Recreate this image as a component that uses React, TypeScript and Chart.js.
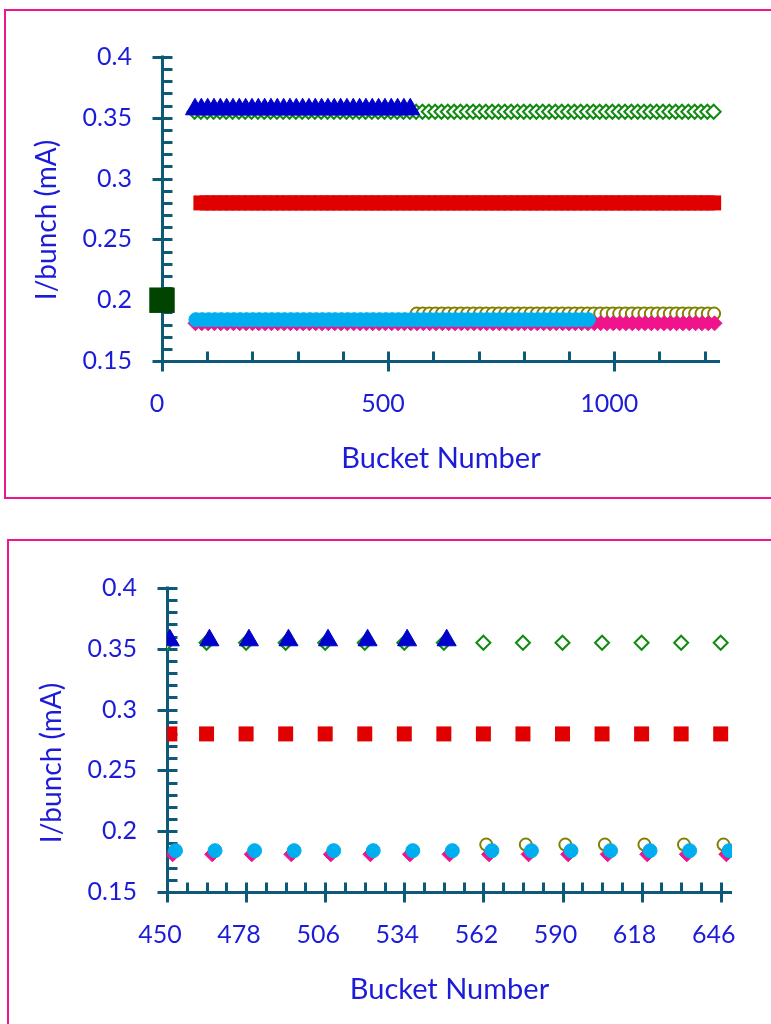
import React, { useEffect, useRef } from 'react';
import { Chart, registerables } from 'chart.js';

Chart.register(...registerables);

// ---------- text ----------
const X_TITLE = 'Bucket Number';
const Y_TITLE = 'I/bunch (mA)';

// ---------- series (bucket numbers) ----------
const TRIANGLE_X = [73, 87, 101, 115, 129, 143, 157, 171, 185, 199, 213, 227, 241, 255, 269, 283, 297, 311, 325, 339, 353, 367, 381, 395, 409, 423, 437, 451, 465, 479, 493, 507, 521, 535, 549];
const TRIANGLE_LEVEL = 0.357;

const GREEN_DIAMOND_X = [72, 86, 100, 114, 128, 142, 156, 170, 184, 198, 212, 226, 240, 254, 268, 282, 296, 310, 324, 338, 352, 366, 380, 394, 408, 422, 436, 450, 464, 478, 492, 506, 520, 534, 548, 562, 576, 590, 604, 618, 632, 646, 660, 674, 688, 702, 716, 730, 744, 758, 772, 786, 800, 814, 828, 842, 856, 870, 884, 898, 912, 926, 940, 954, 968, 982, 996, 1010, 1024, 1038, 1052, 1066, 1080, 1094, 1108, 1122, 1136, 1150, 1164, 1178, 1192, 1206, 1220];
const GREEN_DIAMOND_LEVEL = 0.355;

const RED_SQUARE_X = [86, 100, 114, 128, 142, 156, 170, 184, 198, 212, 226, 240, 254, 268, 282, 296, 310, 324, 338, 352, 366, 380, 394, 408, 422, 436, 451, 464, 478, 492, 506, 520, 534, 548, 562, 576, 590, 604, 618, 632, 646, 660, 674, 688, 702, 716, 730, 744, 758, 772, 786, 800, 814, 828, 842, 856, 870, 884, 898, 912, 926, 940, 954, 968, 982, 996, 1010, 1024, 1038, 1052, 1066, 1080, 1094, 1108, 1122, 1136, 1150, 1164, 1178, 1192, 1206, 1220];
const RED_SQUARE_LEVEL = 0.28;

const PINK_DIAMOND_X = [74, 88, 102, 116, 130, 144, 158, 172, 186, 200, 214, 228, 242, 256, 270, 284, 298, 312, 326, 340, 354, 368, 382, 396, 410, 424, 438, 452, 466, 480, 494, 508, 522, 536, 550, 564, 578, 592, 606, 620, 634, 648, 662, 676, 690, 704, 718, 732, 746, 760, 774, 788, 802, 816, 830, 844, 858, 872, 886, 900, 914, 928, 942, 956, 970, 984, 998, 1012, 1026, 1040, 1054, 1068, 1082, 1096, 1110, 1124, 1138, 1152, 1166, 1180, 1194, 1208, 1222];
const PINK_DIAMOND_LEVEL = 0.181;

const CYAN_CIRCLE_X = [75, 89, 103, 117, 131, 145, 159, 173, 187, 201, 215, 229, 243, 257, 271, 285, 299, 313, 327, 341, 355, 369, 383, 397, 411, 425, 439, 453, 467, 481, 495, 509, 523, 537, 551, 565, 579, 593, 607, 621, 635, 649, 663, 677, 691, 705, 719, 733, 747, 761, 775, 789, 803, 817, 831, 845, 859, 873, 887, 901, 915, 929, 943];
const CYAN_CIRCLE_LEVEL = 0.184;

const OLIVE_CIRCLE_X = [563, 577, 591, 605, 619, 633, 647, 661, 675, 689, 703, 717, 731, 745, 759, 773, 787, 801, 815, 829, 843, 857, 871, 885, 899, 913, 927, 941, 955, 969, 983, 997, 1011, 1025, 1039, 1053, 1067, 1081, 1095, 1109, 1123, 1137, 1151, 1165, 1179, 1193, 1207, 1221];
const OLIVE_CIRCLE_LEVEL = 0.189;

const DARK_SQUARE_X = [0];
const DARK_SQUARE_LEVEL = 0.2;

// ---------- ticks ----------
const Y_TICKS = [0.15, 0.16, 0.17, 0.18, 0.19, 0.2, 0.21, 0.22, 0.23, 0.24, 0.25, 0.26, 0.27, 0.28, 0.29, 0.3, 0.31, 0.32, 0.33, 0.34, 0.35, 0.36, 0.37, 0.38, 0.39, 0.4];
const Y_LABELS = [0.15, 0.2, 0.25, 0.3, 0.35, 0.4];

const TOP_X_TICKS = [0, 100, 200, 300, 400, 500, 600, 700, 800, 900, 1000, 1100, 1200];
const TOP_X_LABELS = [0, 500, 1000];

const BOTTOM_X_TICKS = [450, 457, 464, 471, 478, 485, 492, 499, 506, 513, 520, 527, 534, 541, 548, 555, 562, 569, 576, 583, 590, 597, 604, 611, 618, 625, 632, 639, 646];
const BOTTOM_X_LABELS = [450, 478, 506, 534, 562, 590, 618, 646];

// ---------- styling ----------
const FONT = 'Lato, "Open Sans", sans-serif';
const TEXT_BLUE = '#1c1cd8';
const AXIS = '#0c5a78';
const FRAME = '#ee168c';

const pts = (xs: number[], level: number) => xs.map((x) => ({ x, y: level }));

const axisPlugin = {
  id: 'excelAxes',
  beforeDatasetsDraw(chart: any) {
    const { ctx, chartArea, scales } = chart;
    const xs = scales.x;
    const ys = scales.y;
    const L = Math.round(chartArea.left) + 0.5;
    const B = Math.round(chartArea.bottom) + 0.5;
    const T = 10;
    ctx.save();
    ctx.strokeStyle = AXIS;
    ctx.lineWidth = 3;
    ctx.lineCap = 'butt';
    const seg = (x1: number, y1: number, x2: number, y2: number) => {
      ctx.beginPath();
      ctx.moveTo(x1, y1);
      ctx.lineTo(x2, y2);
      ctx.stroke();
    };
    seg(L, chartArea.top - 1.5, L, B);
    seg(L, B, chartArea.right, B);
    ys.ticks.forEach((t: any) => {
      const p = Math.round(ys.getPixelForValue(t.value)) + 0.5;
      const major = t.label !== '' && t.label != null;
      seg(major ? L - T : L, p, L + T, p);
    });
    xs.ticks.forEach((t: any) => {
      const p = Math.round(xs.getPixelForValue(t.value)) + 0.5;
      const major = t.label !== '' && t.label != null;
      seg(p, B - T, p, major ? B + T : B);
    });
    ctx.restore();
  },
  afterDraw(chart: any, _args: any, opts: any) {
    const { ctx } = chart;
    ctx.save();
    ctx.translate(opts.titleX, opts.titleY);
    ctx.rotate(-Math.PI / 2);
    ctx.fillStyle = TEXT_BLUE;
    ctx.font = `28px ${FONT}`;
    ctx.textAlign = 'center';
    ctx.textBaseline = 'middle';
    ctx.fillText(Y_TITLE, 0, 0);
    ctx.restore();
  },
};

type View = {
  height: number;
  xMin: number;
  xMax: number;
  xTicks: number[];
  xLabels: number[];
  pad: { left: number; right: number; top: number; bottom: number };
  yWidth: number;
  xHeight: number;
  yTitleX: number;
  yTitleY: number;
  xTitlePad: number;
  labelShift: number;
  clip: boolean;
};

const isIn = (arr: number[], v: number) => arr.some((a) => Math.abs(a - v) < 1e-6);

function makeConfig(v: View): any {
  const white = '#ffffff';
  return {
    type: 'scatter',
    data: {
      datasets: [
        { label: 'triangles', data: pts(TRIANGLE_X, TRIANGLE_LEVEL), pointStyle: 'triangle', pointRadius: 11, backgroundColor: '#0000cc', borderColor: '#0000cc', borderWidth: 1 },
        { label: 'cyan', data: pts(CYAN_CIRCLE_X, CYAN_CIRCLE_LEVEL), pointStyle: 'circle', pointRadius: 7, backgroundColor: '#00aeef', borderColor: '#00aeef', borderWidth: 1 },
        { label: 'pink', data: pts(PINK_DIAMOND_X, PINK_DIAMOND_LEVEL), pointStyle: 'rectRot', pointRadius: 7.5, backgroundColor: '#f0148c', borderColor: '#f0148c', borderWidth: 1 },
        { label: 'olive', data: pts(OLIVE_CIRCLE_X, OLIVE_CIRCLE_LEVEL), pointStyle: 'circle', pointRadius: 6, backgroundColor: white, borderColor: '#808000', borderWidth: 2 },
        { label: 'red', data: pts(RED_SQUARE_X, RED_SQUARE_LEVEL), pointStyle: 'rect', pointRadius: 10.6, backgroundColor: '#e00000', borderColor: '#e00000', borderWidth: 0 },
        { label: 'green', data: pts(GREEN_DIAMOND_X, GREEN_DIAMOND_LEVEL), pointStyle: 'rectRot', pointRadius: 7, backgroundColor: white, borderColor: '#108a10', borderWidth: 2 },
        { label: 'dark', data: pts(DARK_SQUARE_X, DARK_SQUARE_LEVEL), pointStyle: 'rect', pointRadius: 18, backgroundColor: '#004400', borderColor: '#004400', borderWidth: 0 },
      ].map((d) => (v.clip ? d : { ...d, clip: false })),
    },
    options: {
      animation: false,
      responsive: false,
      devicePixelRatio: 1,
      events: [],
      layout: { padding: v.pad },
      plugins: {
        legend: { display: false },
        tooltip: { enabled: false },
        excelAxes: { titleX: v.yTitleX, titleY: v.yTitleY },
      },
      scales: {
        x: {
          type: 'linear',
          min: v.xMin,
          max: v.xMax,
          grid: { display: false, drawTicks: false },
          border: { display: false },
          afterBuildTicks: (s: any) => { s.ticks = v.xTicks.map((value) => ({ value })); },
          afterFit: (s: any) => { s.height = v.xHeight; s.paddingLeft = 0; s.paddingRight = 0; },
          ticks: {
            autoSkip: false,
            maxRotation: 0,
            padding: 28,
            labelOffset: v.labelShift,
            color: TEXT_BLUE,
            font: { family: FONT, size: 25 },
            callback: (val: number) => (isIn(v.xLabels, val) ? String(val) : ''),
          },
          title: { display: true, text: X_TITLE, color: TEXT_BLUE, font: { family: FONT, size: 29 }, padding: { top: 0, bottom: v.xTitlePad } },
        },
        y: {
          type: 'linear',
          min: 0.15,
          max: 0.4,
          grid: { display: false, drawTicks: false },
          border: { display: false },
          afterBuildTicks: (s: any) => { s.ticks = Y_TICKS.map((value) => ({ value })); },
          afterFit: (s: any) => { s.width = v.yWidth; s.paddingTop = 0; s.paddingBottom = 0; },
          ticks: {
            autoSkip: false,
            padding: 30,
            color: TEXT_BLUE,
            font: { family: FONT, size: 25 },
            callback: (val: number) => (isIn(Y_LABELS, val) ? String(Math.round(val * 100) / 100) : ''),
          },
          title: { display: false },
        },
      },
    },
    plugins: [axisPlugin],
  };
}

const TOP_VIEW: View = {
  height: 500, xMin: 0, xMax: 1234, xTicks: TOP_X_TICKS, xLabels: TOP_X_LABELS,
  pad: { left: 0, right: 51, top: 57, bottom: 0 }, yWidth: 162, xHeight: 139,
  yTitleX: 47, yTitleY: 220, xTitlePad: 24, labelShift: -5, clip: false,
};

const BOTTOM_VIEW: View = {
  height: 524, xMin: 450, xMax: 650, xTicks: BOTTOM_X_TICKS, xLabels: BOTTOM_X_LABELS,
  pad: { left: 0, right: 39, top: 88, bottom: 0 }, yWidth: 167, xHeight: 132,
  yTitleX: 52, yTitleY: 263, xTitlePad: 17, labelShift: -7, clip: true,
};

function Panel({ view, top }: { view: View; top: number }) {
  const ref = useRef<HTMLCanvasElement | null>(null);
  useEffect(() => {
    if (!ref.current) return;
    const chart = new Chart(ref.current, makeConfig(view));
    return () => chart.destroy();
  }, [view]);
  return (
    <canvas ref={ref} width={771} height={view.height} style={{ position: 'absolute', left: 0, top, width: 771, height: view.height }} />
  );
}

export default function App() {
  return (
    <div style={{ position: 'absolute', left: 0, top: 0, width: 771, height: 1024, overflow: 'hidden', background: '#ffffff' }}>
      <div style={{ position: 'absolute', left: 4, top: 9, width: 820, height: 490, border: `2px solid ${FRAME}`, boxSizing: 'border-box' }} />
      <div style={{ position: 'absolute', left: 7, top: 539, width: 820, height: 600, border: `2px solid ${FRAME}`, boxSizing: 'border-box' }} />
      <Panel view={TOP_VIEW} top={0} />
      <Panel view={BOTTOM_VIEW} top={500} />
    </div>
  );
}
